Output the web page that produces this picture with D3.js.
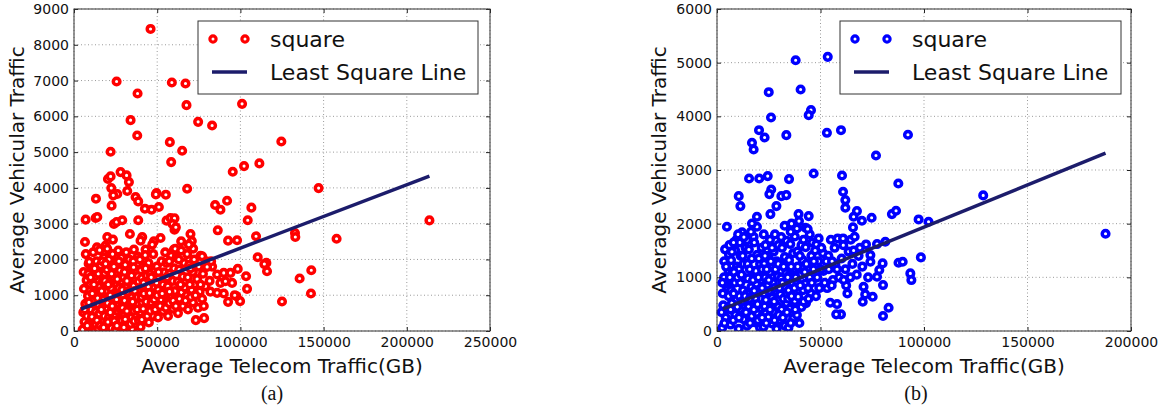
<!DOCTYPE html>
<html><head><meta charset="utf-8">
<script src="https://cdn.jsdelivr.net/npm/d3@7"></script>
<style>
html,body{margin:0;padding:0;background:#fff;}
svg{display:block;}
text{font-family:"DejaVu Sans",sans-serif;fill:#111;}
.cap{font-family:"Liberation Serif","Times New Roman",serif;}
</style></head>
<body>
<svg id="chart" width="1167" height="409"></svg>
<script>
// ---------------- DATA ----------------
const xTicksA = [0, 50000, 100000, 150000, 200000, 250000];
const yTicksA = [0, 1000, 2000, 3000, 4000, 5000, 6000, 7000, 8000, 9000];
const xTicksB = [0, 50000, 100000, 150000, 200000];
const yTicksB = [0, 1000, 2000, 3000, 4000, 5000, 6000];
const legendLabels = ["square", "Least Square Line"];
const xLabel = "Average Telecom Traffic(GB)";
const yLabel = "Average Vehicular Traffic";
const captions = ["(a)", "(b)"];

// least-square line endpoints (telecom, vehicular)
const fitLineA = [[4200, 615], [213600, 4330]];
const fitLineB = [[2900, 410], [187700, 3315]];

// panel (a) points [telecom, vehicular]
const squareA = [
[46000,8443],[25600,6974],[38200,6638],[58800,6946],[67000,6918],[67600,6312],[101000,6349],[34000,5893],[74600,5846],[83000,5745],
[38000,5465],[57600,5279],[22000,5009],[65000,5037],[58400,4721],[124600,5297],[111400,4684],[102200,4609],[95400,4451],[68000,3977],
[20400,4247],[22000,4321],[28000,4442],[31600,4349],[33000,4163],[32000,3912],[26000,3828],[22400,3995],[23600,3791],[22600,3503],[13200,3698],
[37000,3744],[38600,3623],[42600,3419],[46600,3391],[51000,3465],[49600,3856],[55200,3810],[49200,3818],
[7000,3112],[13000,3158],[14000,3186],[24000,2991],[25600,3047],[29000,3094],[38600,3094],[55600,3084],[58000,3158],[60400,3149],[59200,2991],[60400,2833],[61200,2898],
[84800,3521],[88000,3391],[92000,3642],[106600,3447],[104400,3094],[86400,2814],[92600,2526],[98000,2535],[109400,2647],[110400,2061],[115600,1903],[116000,1670],[103400,1531],[104000,1178],
[132800,2740],[133000,2628],[135600,1466],[142600,1698],[142400,1048],[125000,824],[99800,834],[97600,973],
[6600,2489],[20000,2628],[23400,2554],[33600,2712],[41000,2628],[40000,2526],[48000,2507],[52000,2600],[64400,2507],[70000,2712],[70800,2517],[71600,2303],
[147000,3994],[213600,3092],[157800,2578],
[86000,1578],[90000,1624],[94000,1624],[88000,1345],[91000,1391],[95000,1345],[86000,1066],[90000,1047],[92600,815],[98400,1736],[96600,1001],[114400,1871],
[13600,2275],[19000,2387],[36000,2275],[43000,2275],[47000,2415],[60000,2275],[69000,2415],[22000,2135],[26000,2089],
[5200,40],[6300,260],[5600,520],[7800,420],[6800,760],[8400,980],[6000,1180],[7600,1420],[5800,1650],[8800,1880],[7100,2150],
[9500,120],[11800,330],[10200,600],[13200,540],[11000,850],[12800,1060],[9800,1300],[12200,1520],[10600,1760],[13500,1950],[9200,1931],[11500,2200],[13800,2340],
[14500,60],[16800,250],[15200,480],[18200,420],[14800,740],[17500,690],[16200,960],[18800,1140],[15000,1250],[17200,1380],[14600,1600],[18400,1620],[16000,1840],[18000,2050],[15400,2260],
[19500,170],[22500,80],[21000,380],[23600,350],[19800,620],[22800,580],[20800,870],[23500,900],[19600,1100],[22200,1200],[21200,1450],[23800,1500],[19800,1720],[22600,1800],[21000,2000],[23200,2150],[20000,2300],
[25000,40],[27500,210],[24800,460],[28200,480],[26200,700],[28800,820],[24600,1000],[27400,1080],[25800,1300],[28600,1400],[24800,1600],[27600,1700],[25400,1900],[28400,2050],[26600,2250],
[30000,100],[32800,260],[29800,420],[33000,560],[31200,760],[29600,980],[33400,1000],[31000,1220],[33600,1350],[29800,1500],[32200,1620],[30800,1850],[33200,2000],[31400,2200],
[35000,60],[37800,180],[34600,380],[37200,460],[35600,680],[38600,750],[34800,950],[37400,1050],[35800,1260],[38800,1380],[34600,1550],[37000,1700],[35600,1950],[38400,2080],
[40000,120],[42500,310],[39600,520],[43200,600],[41000,800],[43800,950],[39800,1100],[42400,1250],[40800,1480],[43600,1560],[41400,1800],[39600,2000],[42800,2120],
[45000,240],[47800,420],[44800,640],[47400,720],[46200,920],[48600,1060],[44600,1240],[47000,1380],[45800,1600],[48400,1720],[44800,1900],[47600,2150],
[50500,380],[53500,560],[49800,760],[52400,880],[54600,1000],[50600,1150],[53400,1300],[51000,1480],[54200,1640],[49800,1800],[52600,1950],[54800,2200],
[56500,420],[59500,620],[55800,820],[58600,950],[60600,1120],[56400,1250],[59400,1400],[57200,1600],[60200,1750],[55600,1900],[58400,2100],[60800,2300],
[62500,500],[65500,700],[61800,900],[64600,1080],[66600,1220],[62400,1380],[65400,1520],[63200,1720],[66200,1900],[61600,2050],[64400,2250],
[68500,600],[71500,800],[67800,1000],[70600,1150],[72600,1300],[68400,1500],[71400,1650],[69200,1850],[72200,2000],[68000,2150],
[73200,303],[78200,359],[74500,650],[77000,900],[75500,1100],[79000,1250],[74000,1450],[77500,1600],[75000,1800],[79500,1950],[76000,2100],
[81500,1400],[83000,1800],[82000,1100],[77000,2089],[82400,1949],[80000,1791],
[6500,600],[8000,150],[9000,800],[10800,400],[12000,1300],[11000,1050],[13800,300],[14200,920],[15800,150],[16400,600],[17800,880],[16600,1120],[18600,1400],[17800,100],
[20400,250],[21800,520],[20200,780],[21800,1000],[20600,1300],[22600,1600],[24200,280],[23000,700],[25800,150],[26400,550],[25600,880],[27000,1200],[26000,1450],
[28600,300],[27800,620],[29000,1150],[29200,650],[30800,330],[31800,560],[30400,850],[32200,1100],[31800,1400],[34000,200],[33800,780],[36200,280],[36000,560],
[35200,820],[36600,1120],[38000,600],[39000,300],[38200,950],[40800,320],[41600,620],[40600,950],[42000,1050],[41800,1350],[44000,420],[43400,820],[45800,560],
[46600,800],[45400,1060],[46400,1500],[48800,600],[48200,880],[50000,1000],[49600,1350],[51800,700],[53000,1050],[55200,650],[57200,780],[57400,1100],[56000,1500],
[59600,850],[61200,700],[63400,900],[64000,1300],[67000,850],[69600,1300],[70200,950],[73000,1000],[76000,1300],[78000,700],
[8600,1600],[10000,1500],[12400,1750],[17000,1950],[19000,1880],[24000,1800],[27000,1950],[30400,1650],[35800,1780],[40200,1700],[43000,1750],[50800,1650],[57200,1950],[63000,2000],[70000,1750]
];

// panel (b) points [telecom, vehicular]
const squareB = [
[38000,5046],[53500,5108],[40400,4500],[25000,4450],[45400,4115],[44300,4022],[26100,3978],[20300,3742],[23000,3606],[33500,3649],
[16900,3507],[17700,3382],[53100,3693],[59900,3742],[92250,3656],[76800,3271],[46700,2935],[60400,2898],[15500,2842],[20400,2842],
[24500,2886],[34800,2830],[87600,2749],[60900,2594],[62000,2439],[62000,2296],[26200,2637],[25300,2551],[31100,2513],[33500,2532],
[28700,2327],[25800,2178],[10500,2513],[11300,2327],[4800,1942],[67600,2234],[66000,2129],[70000,2054],[74700,2110],[84500,2178],
[86500,2240],[97400,2079],[102200,2035],[77300,1620],[81300,1663],[80000,1260],[87700,1272],[89700,1291],[98500,1371],[93400,1073],
[93900,949],[77300,1011],[78400,1136],[80200,856],[82900,434],[80200,279],[128600,2527],[187700,1812],
[2500,60],[4200,250],[3000,480],[5200,420],[2800,700],[4800,820],[3400,1000],[5600,1120],[3900,1521],[3500,1300],[5800,1420],
[6500,120],[8800,300],[7200,520],[9400,600],[6800,760],[8600,900],[7400,1080],[9600,1200],[6800,1320],[8800,1500],[7200,1477],[9400,1700],
[10500,40],[12800,220],[11000,400],[13400,480],[10800,650],[12600,760],[11200,900],[13600,980],[10600,1150],[12800,1250],[11400,1400],[13800,1550],[12100,1837],[11000,1650],
[14500,100],[16800,280],[15200,450],[17600,560],[14600,700],[16600,820],[15000,980],[17400,1100],[14800,1250],[16800,1350],[15400,1520],[17700,1756],[14500,1694],[16400,1849],
[18500,160],[20800,60],[19200,340],[21600,420],[18600,600],[20600,720],[19000,880],[21400,950],[18800,1120],[20800,1250],[19400,1420],[21600,1550],[19300,1942],[16900,2004],[19300,2129],
[22500,80],[24800,260],[23000,460],[25400,560],[22600,700],[24600,850],[23200,1000],[25600,1100],[22800,1250],[24800,1400],[23400,1600],[25600,1700],
[26500,140],[28800,40],[27200,360],[29600,450],[26600,620],[28600,740],[27000,900],[29400,1020],[26800,1180],[28800,1300],[27400,1480],[29600,1600],[28000,1800],
[30500,200],[32800,100],[31200,400],[33600,520],[30600,680],[32600,820],[31000,980],[33400,1080],[30800,1250],[32800,1380],[31400,1550],[33600,1680],[32700,1961],
[34500,60],[36800,240],[35200,420],[37600,560],[34600,760],[36600,880],[35000,1040],[37400,1160],[34800,1320],[36800,1450],[35400,1620],[37600,1760],
[38600,300],[40800,450],[39200,640],[41600,760],[38800,900],[40600,1050],[39000,1200],[41400,1320],[38800,1480],[40800,1600],[38600,1911],[42700,1924],[39600,2048],[39400,2178],
[43000,520],[45400,700],[42600,880],[44800,1000],[46600,1150],[43200,1250],[45600,1400],[42800,1560],[46000,1650],[44300,2141],
[47800,650],[50400,820],[48400,1000],[51400,1120],[49000,1300],[51200,1450],[49100,1725],[48000,1613],[50400,1550],
[53200,800],[56000,950],[54000,1150],[57200,1250],[53800,1400],[56800,1550],[55000,1700],[54700,527],[58000,502],[59900,310],[57600,310],
[59000,1000],[62000,1150],[60200,1350],[63600,1480],[61000,1600],[64600,1700],[58300,1725],[60900,1725],[62400,850],[65400,1250],[63000,700],
[67500,1050],[70200,1200],[68400,1400],[72000,1613],[66500,1756],[65700,1930],[70800,825],[71600,682],[75200,639],[70400,546],[73000,1000],[74100,1415],[74100,1291],[69000,1550],
[3600,150],[5600,650],[4000,880],[6200,1000],[7800,200],[6600,400],[8000,700],[9800,450],[8200,1100],[9800,1000],[10600,250],[12000,550],[11800,1050],[14000,350],
[13600,650],[12400,1400],[15800,600],[16000,150],[15800,1150],[17800,400],[18000,750],[17400,950],[19600,500],[20000,1000],[20200,1350],[19800,200],[21800,250],
[21800,800],[21800,1150],[23800,150],[23600,580],[24000,1150],[23200,1400],[25600,400],[25400,750],[25000,950],[26000,1300],[27800,200],[27600,550],[28200,1150],
[27600,800],[29800,300],[30200,800],[29600,1250],[31800,250],[32000,600],[32200,1200],[31600,900],[33800,350],[34400,600],[34200,1000],[35600,150],[36000,650],
[35800,1200],[37800,400],[37400,800],[38000,1000],[39800,150],[40200,850],[40000,1400],[41800,550],[42400,1100],[44000,800],[44200,600],[45800,900],[46800,1300],
[47400,1500],[49400,800],[50200,1150],[52000,900],[52800,1300],[55400,850],[55600,1300],[58000,1150],[61200,950],[64400,1000],[66000,1500],
[2200,350],[2600,900],[4400,1200],[6000,1600],[8000,1650],[10200,1800],[13000,1750],[18000,1650],[22600,1800],[26600,1550],[31000,1750],[35600,1850],[41800,1700],
[44800,1800],[36000,2000],[43800,1900]
];

// ---------------- DRAW ----------------
const svg = d3.select("#chart");

function panel(cfg) {
  const x = d3.scaleLinear().domain(cfg.xDomain).range([cfg.left, cfg.right]);
  const y = d3.scaleLinear().domain(cfg.yDomain).range([cfg.bottom, cfg.top]);
  const g = svg.append("g");

  // grid
  g.append("g").selectAll("line").data(cfg.xTicks).join("line")
    .attr("x1", d => x(d)).attr("x2", d => x(d))
    .attr("y1", cfg.top).attr("y2", cfg.bottom)
    .attr("stroke", "#9a9a9a").attr("stroke-width", 1).attr("stroke-dasharray", "1,2.5");
  g.append("g").selectAll("line").data(cfg.yTicks).join("line")
    .attr("x1", cfg.left).attr("x2", cfg.right)
    .attr("y1", d => y(d)).attr("y2", d => y(d))
    .attr("stroke", "#9a9a9a").attr("stroke-width", 1).attr("stroke-dasharray", "1,2.5");

  // points
  const clipId = "clip" + cfg.id;
  svg.append("clipPath").attr("id", clipId).append("rect")
    .attr("x", cfg.left - 6).attr("y", cfg.top).attr("width", cfg.right - cfg.left + 12).attr("height", cfg.bottom - cfg.top);
  g.append("g").attr("clip-path", `url(#${clipId})`).selectAll("circle").data(cfg.points).join("circle")
    .attr("cx", d => x(d[0])).attr("cy", d => y(d[1])).attr("r", 3.3)
    .attr("fill", "#fff").attr("stroke", cfg.color).attr("stroke-width", 3.5);

  // fit line
  g.append("path").datum(cfg.fit)
    .attr("d", d3.line().x(d => x(d[0])).y(d => y(d[1])))
    .attr("stroke", "#1c1c6b").attr("stroke-width", 3.5).attr("fill", "none");

  // axes (ticks inward, labels outside)
  const xAxis = d3.axisBottom(x).tickValues(cfg.xTicks).tickFormat(d3.format("d")).tickSizeInner(-4).tickSizeOuter(0).tickPadding(8);
  const yAxis = d3.axisLeft(y).tickValues(cfg.yTicks).tickFormat(d3.format("d")).tickSizeInner(-4).tickSizeOuter(0).tickPadding(8);
  const xa = g.append("g").attr("transform", `translate(0,${cfg.bottom})`).call(xAxis);
  const ya = g.append("g").attr("transform", `translate(${cfg.left},0)`).call(yAxis);
  const xt = g.append("g").attr("transform", `translate(0,${cfg.top})`).call(d3.axisTop(x).tickValues(cfg.xTicks).tickSizeInner(-4).tickSizeOuter(0).tickFormat(""));
  const yr = g.append("g").attr("transform", `translate(${cfg.right},0)`).call(d3.axisRight(y).tickValues(cfg.yTicks).tickSizeInner(-4).tickSizeOuter(0).tickFormat(""));
  [xa, ya, xt, yr].forEach(a => {
    a.select(".domain").remove();
    a.selectAll(".tick line").attr("stroke", "#222");
    a.selectAll("text").attr("font-family", "DejaVu Sans").attr("font-size", 14).attr("fill", "#111");
  });
  xa.selectAll("text").attr("dy", "0.71em").attr("y", 6);
  ya.selectAll("text").attr("x", -5);

  // frame
  g.append("rect").attr("x", cfg.left).attr("y", cfg.top)
    .attr("width", cfg.right - cfg.left).attr("height", cfg.bottom - cfg.top)
    .attr("fill", "none").attr("stroke", "#333").attr("stroke-width", 1);

  // axis labels
  g.append("text").attr("x", (cfg.left + cfg.right) / 2).attr("y", 373)
    .attr("text-anchor", "middle").attr("font-size", 20).text(xLabel);
  g.append("text").attr("transform", `translate(${cfg.yLabelX},${(cfg.top + cfg.bottom) / 2}) rotate(-90)`)
    .attr("text-anchor", "middle").attr("font-size", 20).text(yLabel);

  // caption
  g.append("text").attr("class", "cap").attr("x", cfg.capX).attr("y", 400)
    .attr("text-anchor", "middle").attr("font-size", 20).text(cfg.caption);

  // legend
  const L = cfg.legend;
  const lg = g.append("g");
  lg.append("rect").attr("x", L.x).attr("y", L.y).attr("width", L.w).attr("height", L.h)
    .attr("fill", "#fff").attr("stroke", "#333").attr("stroke-width", 1);
  lg.selectAll("circle").data([L.x + 15, L.x + 47]).join("circle")
    .attr("cx", d => d).attr("cy", L.y + 18).attr("r", 3.1)
    .attr("fill", "#fff").attr("stroke", cfg.color).attr("stroke-width", 3.2);
  lg.append("line").attr("x1", L.x + 14).attr("x2", L.x + 49).attr("y1", L.y + 51).attr("y2", L.y + 51)
    .attr("stroke", "#1c1c6b").attr("stroke-width", 3.5);
  lg.append("text").attr("x", L.x + 72).attr("y", L.y + 26).attr("font-size", 22).text(legendLabels[0]);
  lg.append("text").attr("x", L.x + 72).attr("y", L.y + 59).attr("font-size", 22).text(legendLabels[1]);
}

panel({
  id: "A", left: 74, right: 490, top: 9, bottom: 331,
  xDomain: [0, 250000], yDomain: [0, 9000], xTicks: xTicksA, yTicks: yTicksA,
  points: squareA, fit: fitLineA, color: "#ff0000",
  yLabelX: 24, capX: 272, caption: captions[0],
  legend: {x: 198, y: 21, w: 280, h: 73}
});
panel({
  id: "B", left: 717, right: 1131, top: 9, bottom: 331,
  xDomain: [0, 200000], yDomain: [0, 6000], xTicks: xTicksB, yTicks: yTicksB,
  points: squareB, fit: fitLineB, color: "#0000ff",
  yLabelX: 666, capX: 916, caption: captions[1],
  legend: {x: 840, y: 21, w: 281, h: 73}
});
</script>
</body></html>
